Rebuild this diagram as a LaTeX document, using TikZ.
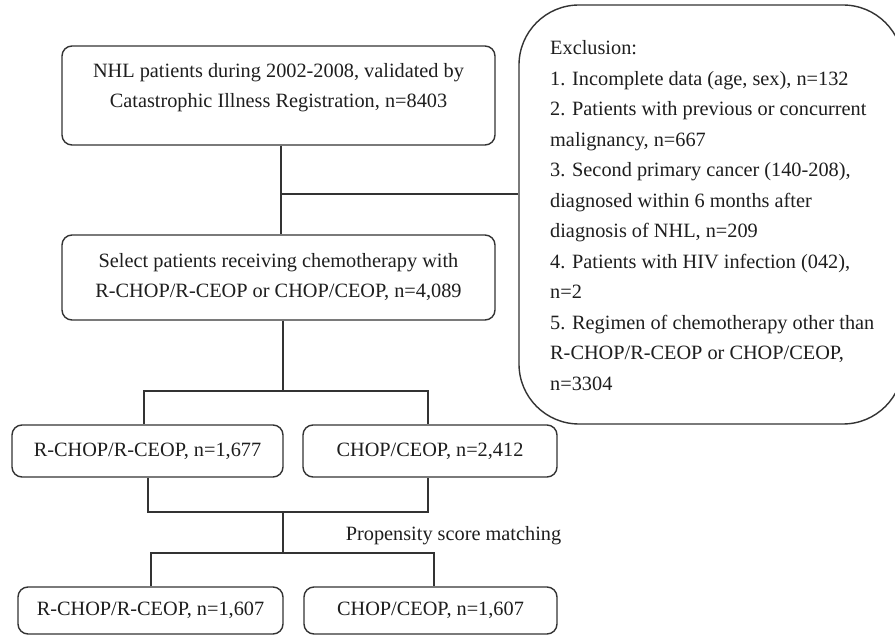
\documentclass[tikz,border=0pt]{standalone}
\usepackage{fontspec}
\setmainfont{Liberation Serif}
\definecolor{linec}{HTML}{333333}
\definecolor{textc}{HTML}{1E1E1E}
\begin{document}
\begin{tikzpicture}[x=1pt,y=-1pt,
  box/.style={draw=linec,line width=1.4pt,rounded corners=10pt,inner sep=0pt,
    text=textc,font=\fontsize{20.3}{30}\selectfont,align=center},
  txt/.style={text=textc,font=\fontsize{20.3}{30}\selectfont,align=center,inner sep=0pt},
  conn/.style={draw=linec,line width=1.4pt}]
\useasboundingbox (0,0) rectangle (895,636);
\fill[white] (0,0) rectangle (895,636);

% boxes
\node[box,minimum width=433pt,minimum height=99pt] (b1) at (278.5,95.5) {};
\node[txt] (b1t) at ([yshift=7.5pt]b1.center)
  {NHL patients during 2002-2008, validated by\\Catastrophic Illness Registration, n=8403};
\node[box,minimum width=433pt,minimum height=85pt] (b2) at (278.5,277.5)
  {Select patients receiving chemotherapy with\\R-CHOP/R-CEOP or CHOP/CEOP, n=4,089};
\node[box,minimum width=271pt,minimum height=52pt] (b3a) at (147.5,451) {R-CHOP/R-CEOP, n=1,677};
\node[box,minimum width=254pt,minimum height=52pt] (b3b) at (430,451) {CHOP/CEOP, n=2,412};
\node[box,minimum width=265pt,minimum height=47pt] (b4a) at (150.5,610.5) {R-CHOP/R-CEOP, n=1,607};
\node[box,minimum width=253pt,minimum height=47pt] (b4b) at (430.5,610.5) {CHOP/CEOP, n=1,607};

% exclusion box
\node[draw=linec,line width=1.4pt,rounded corners=60pt,minimum width=384pt,
  minimum height=419pt,inner sep=0pt] (ex) at (711,214.5) {};
\node[txt,align=left,anchor=north west,font=\fontsize{20.3}{30.5}\selectfont] (ext) at (550,40.7)
  {Exclusion:\\
   1. Incomplete data (age, sex), n=132\\
   2. Patients with previous or concurrent\\
   malignancy, n=667\\
   3. Second primary cancer (140-208),\\
   diagnosed within 6 months after\\
   diagnosis of NHL, n=209\\
   4. Patients with HIV infection (042),\\
   n=2\\
   5. Regimen of chemotherapy other than\\
   R-CHOP/R-CEOP or CHOP/CEOP,\\
   n=3304};

% connectors
\coordinate (j1) at (281,194);
\coordinate (j2) at (283,391);
\coordinate (j3) at (283,512);
\coordinate (j4) at (283,553);
\draw[conn] (b1.south -| j1) -- (b2.north -| j1);
\draw[conn] (j1) -- (ex.west |- j1);
\draw[conn] (b2.south -| j2) -- (j2);
\draw[conn] ([xshift=-3.5pt]b3a.north) |- (j2) -| ([xshift=-2pt]b3b.north);
\draw[conn] ([xshift=0.5pt]b3a.south) |- (j3) -| ([xshift=-2pt]b3b.south);
\draw[conn] (j3) -- (j4);
\draw[conn] ([xshift=0.5pt]b4a.north) |- (j4) -| ([xshift=3.5pt]b4b.north);

\node[txt] (psm) at (453.5,536) {Propensity score matching};
\end{tikzpicture}
\end{document}
